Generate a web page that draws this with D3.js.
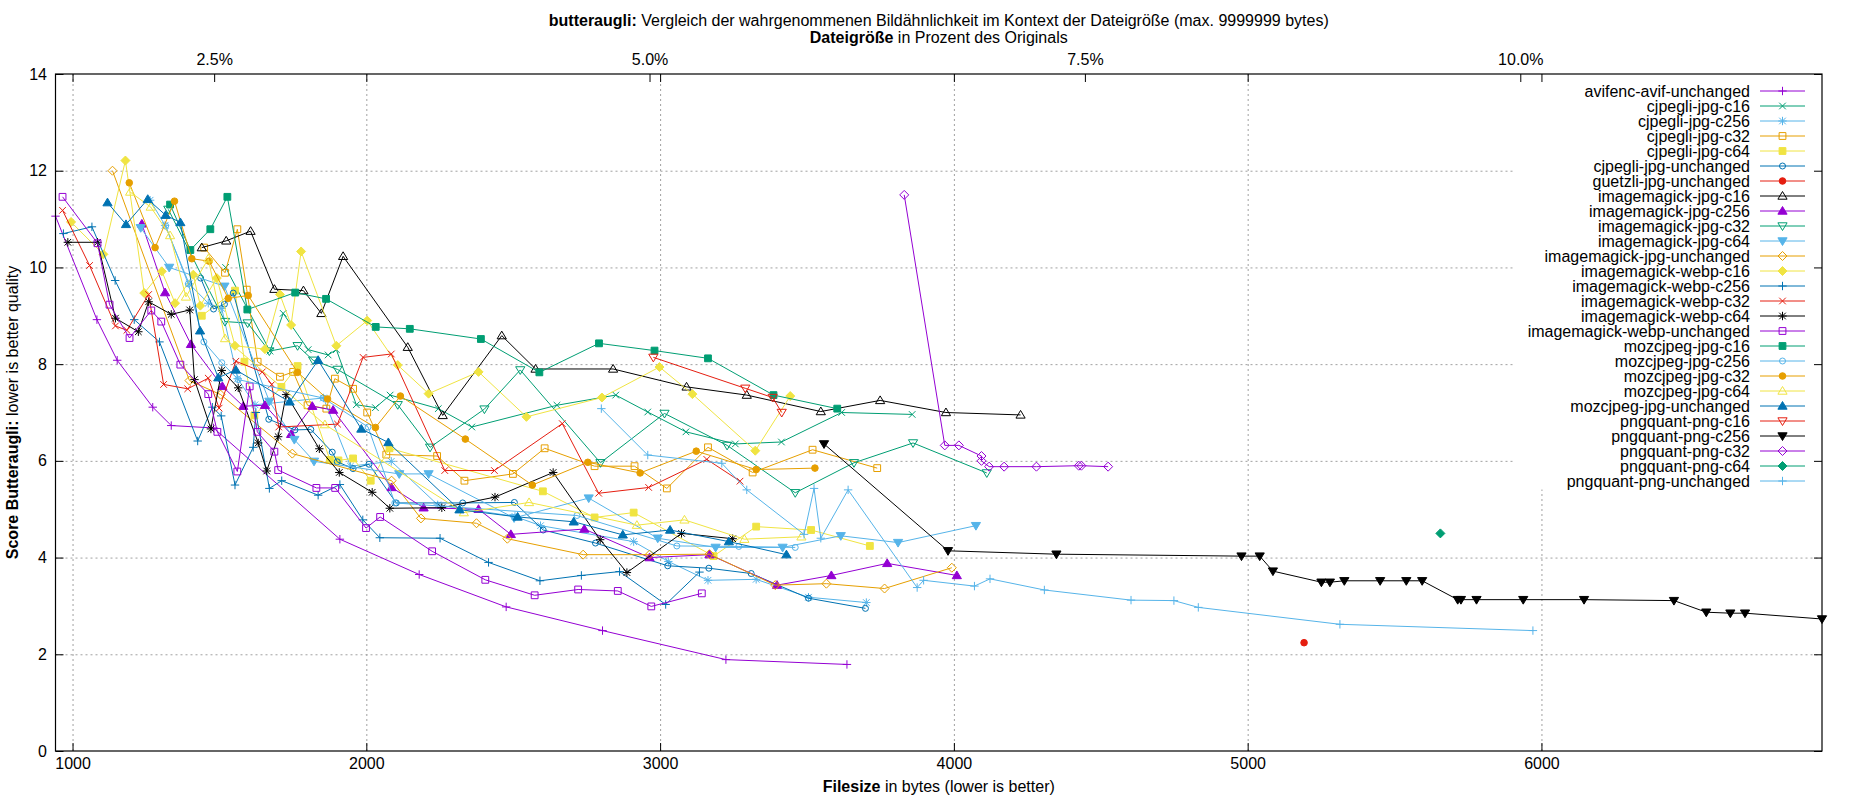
<!DOCTYPE html>
<html><head><meta charset="utf-8">
<script src="https://cdn.jsdelivr.net/npm/d3@7/dist/d3.min.js"></script>
<style>
body{margin:0;background:#fff;}
svg{font-family:"Liberation Sans",Arial,sans-serif;}
.grid line{stroke:#a0a0a0;stroke-dasharray:2,3;stroke-width:1;}
.grid path{display:none;}
.ax path{display:none;}
.ax line{stroke:#000;}
.ax text{font-size:16px;fill:#000;font-family:"Liberation Sans",Arial,sans-serif;}
</style></head><body>
<svg id="c" width="1850" height="800"></svg>
<script>
// ---- data (filesize in bytes, butteraugli score) ----
const avifencAvifUnchanged = [[942,11.06],[1083,8.92],[1152,8.08],[1273,7.11],[1336,6.73],[1480,6.68],[1910,4.38],[2180,3.65],[2476,2.98],[2804,2.49],[3224,1.89],[3636,1.79]];
const cjpegliJpgC16 = [[1521,10.0],[1672,8.27],[1717,9.05],[1802,8.3],[1870,8.19],[1898,8.3],[1966,7.16],[2031,7.1],[2081,7.36],[2245,7.08],[2359,6.7],[2649,7.15],[2849,7.36],[2958,7.01],[3088,6.6],[3256,6.35],[3413,6.39],[3618,7.0],[3858,6.96]];
const cjpegliJpgC256 = [[1264,11.39],[1315,10.87],[1397,9.66],[1462,9.26],[1508,9.15],[1562,7.7],[1621,7.16],[1854,7.3],[1946,5.89],[2085,5.99],[2243,5.09],[2506,4.85],[2593,4.66],[2910,4.33],[3028,3.92],[3163,3.53],[3327,3.55],[3505,3.18],[3702,3.07]];
const cjpegliJpgC32 = [[1448,10.41],[1519,9.89],[1561,10.79],[1593,9.54],[1630,8.05],[1706,7.74],[1751,7.84],[1800,7.15],[1864,7.08],[1893,7.7],[1955,7.49],[2003,7.0],[2068,6.13],[2241,6.1],[2334,5.59],[2499,5.73],[2607,6.26],[2777,5.89],[2913,5.89],[3023,5.43],[3163,6.28],[3315,5.76],[3519,6.23],[3739,5.85]];
const cjpegliJpgC64 = [[1440,9.0],[1553,9.52],[1585,8.05],[1619,6.94],[1711,7.53],[1766,7.96],[1876,6.02],[1905,6.01],[1955,6.05],[2015,5.59],[2079,6.26],[2601,5.37],[2777,4.83],[2910,4.93],[3182,4.03],[3327,4.64],[3514,4.57],[3714,4.24]];
const cjpegliJpgUnchanged = [[1436,9.78],[1480,9.14],[1517,9.24],[1547,9.47],[1668,6.86],[1757,6.64],[1811,6.65],[1884,6.18],[1901,5.98],[1955,5.84],[2009,5.93],[2102,5.13],[2328,5.13],[2504,5.14],[2602,4.57],[2780,4.3],[3026,3.83],[3166,3.78],[3310,3.67],[3505,3.16],[3699,2.95]];
const guetzliJpgUnchanged = [[5192,2.24]];
const imagemagickJpgC16 = [[1440,10.41],[1523,10.55],[1606,10.75],[1687,9.55],[1786,9.52],[1847,9.05],[1921,10.23],[2141,8.35],[2260,6.94],[2461,8.59],[2576,7.90],[2840,7.90],[3090,7.53],[3295,7.36],[3547,7.02],[3749,7.25],[3973,7.0],[4227,6.95]];
const imagemagickJpgC256 = [[1236,10.9],[1315,9.48],[1403,8.41],[1510,7.54],[1581,7.13],[1655,7.15],[1744,6.55],[1816,7.13],[1887,7.05],[2086,5.45],[2195,5.03],[2382,5.0],[2492,4.48],[2742,4.59],[2964,4.0],[3168,4.06],[3398,3.43],[3583,3.63],[3773,3.88],[4010,3.63]];
const imagemagickJpgC32 = [[1326,11.2],[1519,8.88],[1596,8.85],[1670,8.27],[1766,8.38],[1819,8.08],[1902,7.89],[2107,7.16],[2217,6.28],[2402,7.07],[2524,7.88],[2797,5.96],[3015,6.98],[3228,6.32],[3460,5.34],[3660,5.96],[3861,6.37],[4112,5.75]];
const imagemagickJpgC64 = [[1232,10.82],[1329,10.0],[1517,9.61],[1670,7.23],[1755,6.44],[1822,5.99],[2112,5.73],[2212,5.73],[2503,4.82],[2757,5.23],[2992,4.4],[3189,4.21],[3417,4.21],[3615,4.45],[3810,4.31],[4075,4.66]];
const imagemagickJpgUnchanged = [[1136,12.0],[1398,7.66],[1504,7.37],[1748,6.15],[2086,5.59],[2186,4.81],[2375,4.71],[2480,4.39],[2738,4.06],[2964,4.06],[3168,4.07],[3392,3.43],[3566,3.46],[3764,3.36],[3993,3.79]];
const imagemagickWebpC16 = [[995,10.94],[1105,10.27],[1180,12.21],[1244,9.47],[1304,9.92],[1349,9.26],[1411,9.85],[1435,9.21],[1491,9.78],[1553,8.38],[1655,8.31],[1706,9.44],[1744,8.81],[1778,10.33],[1898,8.38],[2003,8.9],[2107,7.98],[2212,7.39],[2382,7.84],[2545,6.91],[2802,7.31],[2998,7.94],[3110,7.38],[3324,6.21],[3443,7.34]];
const imagemagickWebpC256 = [[969,10.7],[1066,10.84],[1145,9.73],[1210,8.92],[1296,8.46],[1426,6.41],[1476,7.11],[1506,6.93],[1553,5.5],[1615,6.28],[1624,7.0],[1670,5.43],[1712,5.59],[1836,5.29],[1910,5.51],[1988,4.78],[2046,4.41],[2251,4.4],[2416,3.9],[2591,3.52],[2732,3.63],[2862,3.71],[3019,3.03],[3134,3.70]];
const imagemagickWebpC32 = [[966,11.18],[1058,10.04],[1146,8.79],[1185,8.7],[1259,9.44],[1310,7.58],[1392,7.49],[1462,7.71],[1499,7.09],[1556,8.06],[1646,7.84],[1678,7.58],[1702,6.7],[1902,6.76],[1989,8.14],[2085,8.21],[2267,5.8],[2436,5.8],[2667,6.77],[2791,5.33],[2961,5.45],[3159,6.03],[3272,5.58]];
const imagemagickWebpC64 = [[984,10.52],[1085,10.52],[1146,8.95],[1224,8.67],[1259,9.29],[1336,9.03],[1399,9.12],[1415,7.68],[1471,6.66],[1508,7.87],[1564,7.51],[1632,6.37],[1661,5.79],[1700,6.5],[1727,7.37],[1840,6.25],[1908,5.76],[2020,5.35],[2080,5.02],[2257,5.03],[2438,5.25],[2636,5.76],[2796,4.37],[2887,3.69],[3073,4.5],[3247,4.39]];
const imagemagickWebpUnchanged = [[966,11.46],[1085,10.5],[1126,9.23],[1194,8.54],[1268,9.11],[1302,8.88],[1367,7.99],[1462,7.38],[1493,6.6],[1561,5.78],[1603,7.54],[1629,6.6],[1687,6.19],[1700,5.81],[1830,5.44],[1894,5.44],[1999,4.61],[2047,4.84],[2224,4.13],[2405,3.54],[2573,3.22],[2721,3.34],[2856,3.31],[2970,2.99],[3142,3.26]];
const mozcjpegJpgC16 = [[1332,11.3],[1401,10.36],[1469,10.79],[1527,11.46],[1595,9.13],[1758,9.48],[1863,9.35],[2032,8.77],[2148,8.73],[2390,8.52],[2589,7.83],[2792,8.43],[2981,8.28],[3163,8.12],[3386,7.36],[3603,7.08]];
const mozcjpegJpgC256 = [[1317,10.86],[1394,9.66],[1447,8.46],[1508,8.03],[1564,7.68],[1853,7.3],[2006,6.7],[2097,5.13],[2717,4.87],[3057,4.24],[3268,4.23],[3460,4.21]];
const mozcjpegJpgC32 = [[1193,11.75],[1281,10.41],[1347,11.37],[1406,10.18],[1465,10.13],[1530,9.36],[1598,9.42],[1766,7.83],[1868,7.28],[2031,6.69],[2116,7.34],[2337,6.45],[2565,5.5],[2754,5.97],[2932,5.75],[3123,6.2],[3327,5.82],[3527,5.85]];
const mozcjpegJpgC64 = [[1196,11.56],[1266,11.25],[1332,10.66],[1386,9.39],[1462,10.18],[1519,8.53],[1859,6.75],[2332,4.93],[2554,5.14],[2921,4.67],[3083,4.78],[3287,4.38],[3481,4.43]];
const mozcjpegJpgUnchanged = [[1119,11.34],[1182,10.89],[1256,11.41],[1317,11.08],[1367,10.93],[1434,8.69],[1496,7.72],[1556,7.88],[1739,7.22],[1836,8.08],[1983,6.66],[2075,6.38],[2317,4.99],[2515,4.84],[2706,4.74],[2873,4.47],[3034,4.57],[3234,4.33],[3430,4.06]];
const pngquantPngC16 = [[2977,8.14],[3290,7.5],[3383,7.31],[3414,7.0]];
const pngquantPngC256 = [[3558,6.35],[3980,4.14],[4349,4.07],[4979,4.03],[5041,4.03],[5086,3.72],[5251,3.49],[5280,3.49],[5329,3.52],[5451,3.52],[5540,3.52],[5594,3.52],[5715,3.13],[5726,3.13],[5779,3.13],[5938,3.13],[6145,3.13],[6451,3.11],[6561,2.87],[6643,2.85],[6693,2.85],[6955,2.73]];
const pngquantPngC32 = [[3831,11.5],[3969,6.32],[4017,6.32],[4094,6.1],[4094,6.0],[4120,5.88],[4171,5.88],[4281,5.88],[4425,5.9],[4434,5.9],[4525,5.88]];
const pngquantPngC64 = [[5656,4.5]];
const pngquantPngUnchanged = [[2800,7.08],[2958,6.12],[3210,5.95],[3295,5.4],[3490,4.48],[3524,5.43],[3547,4.4],[3640,5.4],[3875,3.38],[3897,3.53],[4070,3.41],[4123,3.56],[4308,3.33],[4603,3.12],[4749,3.11],[4832,2.97],[5314,2.62],[5971,2.49]];

const seriesNames = ["avifenc-avif-unchanged","cjpegli-jpg-c16","cjpegli-jpg-c256","cjpegli-jpg-c32","cjpegli-jpg-c64","cjpegli-jpg-unchanged","guetzli-jpg-unchanged","imagemagick-jpg-c16","imagemagick-jpg-c256","imagemagick-jpg-c32","imagemagick-jpg-c64","imagemagick-jpg-unchanged","imagemagick-webp-c16","imagemagick-webp-c256","imagemagick-webp-c32","imagemagick-webp-c64","imagemagick-webp-unchanged","mozcjpeg-jpg-c16","mozcjpeg-jpg-c256","mozcjpeg-jpg-c32","mozcjpeg-jpg-c64","mozcjpeg-jpg-unchanged","pngquant-png-c16","pngquant-png-c256","pngquant-png-c32","pngquant-png-c64","pngquant-png-unchanged"];
const seriesValues = [avifencAvifUnchanged,cjpegliJpgC16,cjpegliJpgC256,cjpegliJpgC32,cjpegliJpgC64,cjpegliJpgUnchanged,guetzliJpgUnchanged,imagemagickJpgC16,imagemagickJpgC256,imagemagickJpgC32,imagemagickJpgC64,imagemagickJpgUnchanged,imagemagickWebpC16,imagemagickWebpC256,imagemagickWebpC32,imagemagickWebpC64,imagemagickWebpUnchanged,mozcjpegJpgC16,mozcjpegJpgC256,mozcjpegJpgC32,mozcjpegJpgC64,mozcjpegJpgUnchanged,pngquantPngC16,pngquantPngC256,pngquantPngC32,pngquantPngC64,pngquantPngUnchanged];
const xTicks = [1000,2000,3000,4000,5000,6000];
const yTicks = [0,2,4,6,8,10,12,14];
const x2Ticks = [2.5,5.0,7.5,10.0];   // percent of original
const originalSize = 59280;          // bytes
const xDomain = [942,6955];
const yDomain = [0,14];

// ---- styles ----
const palette = ["#9400d3","#009e73","#56b4e9","#e69f00","#f0e442","#0072b2","#e51e10","#000000"];

const svg = d3.select("#c");
const L=55.5, R=1822, T=74, B=751;
const x = d3.scaleLinear().domain(xDomain).range([L,R]);
const y = d3.scaleLinear().domain(yDomain).range([B,T]);
const x2 = d3.scaleLinear().domain(xDomain.map(v=>v/originalSize*100)).range([L,R]);

// grid
svg.append("g").attr("class","grid").attr("transform",`translate(0,${B})`)
  .call(d3.axisBottom(x).tickValues(xTicks).tickSize(-(B-T)).tickFormat(""));
svg.append("g").attr("class","grid").attr("transform",`translate(${L},0)`)
  .call(d3.axisLeft(y).tickValues(yTicks.filter(v=>v>0&&v<14)).tickSize(-(R-L)).tickFormat(""));

// data
const line = d3.line().x(d=>x(d[0])).y(d=>y(d[1]));
function marker(g, type, cx, cy, color){
  const s=4.2, c=3.3, q=3.4;
  let d, filled=false;
  switch(type){
    case 1: d=`M${cx-s},${cy}H${cx+s}M${cx},${cy-s}V${cy+s}`; break;
    case 2: d=`M${cx-c},${cy-c}L${cx+c},${cy+c}M${cx-c},${cy+c}L${cx+c},${cy-c}`; break;
    case 3: d=`M${cx-s},${cy}H${cx+s}M${cx},${cy-s}V${cy+s}M${cx-c},${cy-c}L${cx+c},${cy+c}M${cx-c},${cy+c}L${cx+c},${cy-c}`; break;
    case 4: d=`M${cx-q},${cy-q}H${cx+q}V${cy+q}H${cx-q}Z`; break;
    case 5: d=`M${cx-q},${cy-q}H${cx+q}V${cy+q}H${cx-q}Z`; filled=true; break;
    case 6: d=`M${cx-3},${cy}A3,3 0 1,0 ${cx+3},${cy}A3,3 0 1,0 ${cx-3},${cy}Z`; break;
    case 7: d=`M${cx-3.3},${cy}A3.3,3.3 0 1,0 ${cx+3.3},${cy}A3.3,3.3 0 1,0 ${cx-3.3},${cy}Z`; filled=true; break;
    case 8: case 9: d=`M${cx},${cy-4.5}L${cx+4.6},${cy+3.2}L${cx-4.6},${cy+3.2}Z`; filled=(type===9); break;
    case 10: case 11: d=`M${cx},${cy+4.5}L${cx+4.6},${cy-3.2}L${cx-4.6},${cy-3.2}Z`; filled=(type===11); break;
    case 12: case 13: d=`M${cx},${cy-4.5}L${cx+4.5},${cy}L${cx},${cy+4.5}L${cx-4.5},${cy}Z`; filled=(type===13); break;
  }
  g.append("path").attr("d",d).attr("stroke",color).attr("stroke-width",1)
   .attr("fill",filled?color:"none");
}
const plot = svg.append("g");
seriesValues.forEach((vals,i)=>{
  const color = palette[i%8], pt = (i%13)+1;
  const g = plot.append("g");
  g.append("path").datum(vals).attr("d",line).attr("fill","none")
   .attr("stroke",color).attr("stroke-width",1);
  vals.forEach(d=>marker(g,pt,x(d[0]),y(d[1]),color));
});

// legend (opaque)
const LG = svg.append("g");
LG.append("rect").attr("x",1515).attr("y",T+0.5).attr("width",R-1515-0.5).attr("height",489-T).attr("fill","#fff");
seriesNames.forEach((n,i)=>{
  const ly = 91 + i*15, color = palette[i%8], pt=(i%13)+1;
  LG.append("text").attr("x",1750).attr("y",ly+5.6).attr("text-anchor","end")
    .attr("font-size",16).text(n);
  LG.append("line").attr("x1",1760).attr("x2",1805).attr("y1",ly).attr("y2",ly)
    .attr("stroke",color).attr("stroke-width",1);
  marker(LG,pt,1782.5,ly,color);
});

// axes
svg.append("g").attr("class","ax").attr("transform",`translate(0,${B})`)
  .call(d3.axisBottom(x).tickValues(xTicks).tickSize(-8).tickSizeOuter(0).tickPadding(7).tickFormat(d3.format("d")));
svg.append("g").attr("class","ax").attr("transform",`translate(0,${T})`)
  .call(d3.axisTop(x).tickValues(xTicks).tickSize(-8).tickSizeOuter(0).tickFormat(""));
svg.append("g").attr("class","ax").attr("transform",`translate(0,${T})`)
  .call(d3.axisTop(x2).tickValues(x2Ticks).tickSize(-8).tickSizeOuter(0).tickPadding(9).tickFormat(d=>d.toFixed(1)+"%"));
svg.append("g").attr("class","ax").attr("transform",`translate(${L},0)`)
  .call(d3.axisLeft(y).tickValues(yTicks).tickSize(-8).tickSizeOuter(0).tickPadding(8.5));
svg.append("g").attr("class","ax").attr("transform",`translate(${R},0)`)
  .call(d3.axisRight(y).tickValues(yTicks).tickSize(-8).tickSizeOuter(0).tickFormat(""));

svg.append("rect").attr("x",L).attr("y",T).attr("width",R-L).attr("height",B-T)
  .attr("fill","none").attr("stroke","#000").attr("stroke-width",1.2);

// titles
const cx = (L+R)/2;
const t1 = svg.append("text").attr("x",cx).attr("y",26).attr("text-anchor","middle").attr("font-size",16);
t1.append("tspan").attr("font-weight","bold").text("butteraugli:");
t1.append("tspan").text(" Vergleich der wahrgenommenen Bildähnlichkeit im Kontext der Dateigröße (max. 9999999 bytes)");
const t2 = svg.append("text").attr("x",cx).attr("y",42.5).attr("text-anchor","middle").attr("font-size",16);
t2.append("tspan").attr("font-weight","bold").text("Dateigröße");
t2.append("tspan").text(" in Prozent des Originals");
const xl = svg.append("text").attr("x",cx).attr("y",792).attr("text-anchor","middle").attr("font-size",16);
xl.append("tspan").attr("font-weight","bold").text("Filesize");
xl.append("tspan").text(" in bytes (lower is better)");
const yl = svg.append("text").attr("transform",`translate(18,${(T+B)/2}) rotate(-90)`).attr("text-anchor","middle").attr("font-size",16);
yl.append("tspan").attr("font-weight","bold").text("Score Butteraugli:");
yl.append("tspan").text(" lower is better quality");
</script></body></html>
